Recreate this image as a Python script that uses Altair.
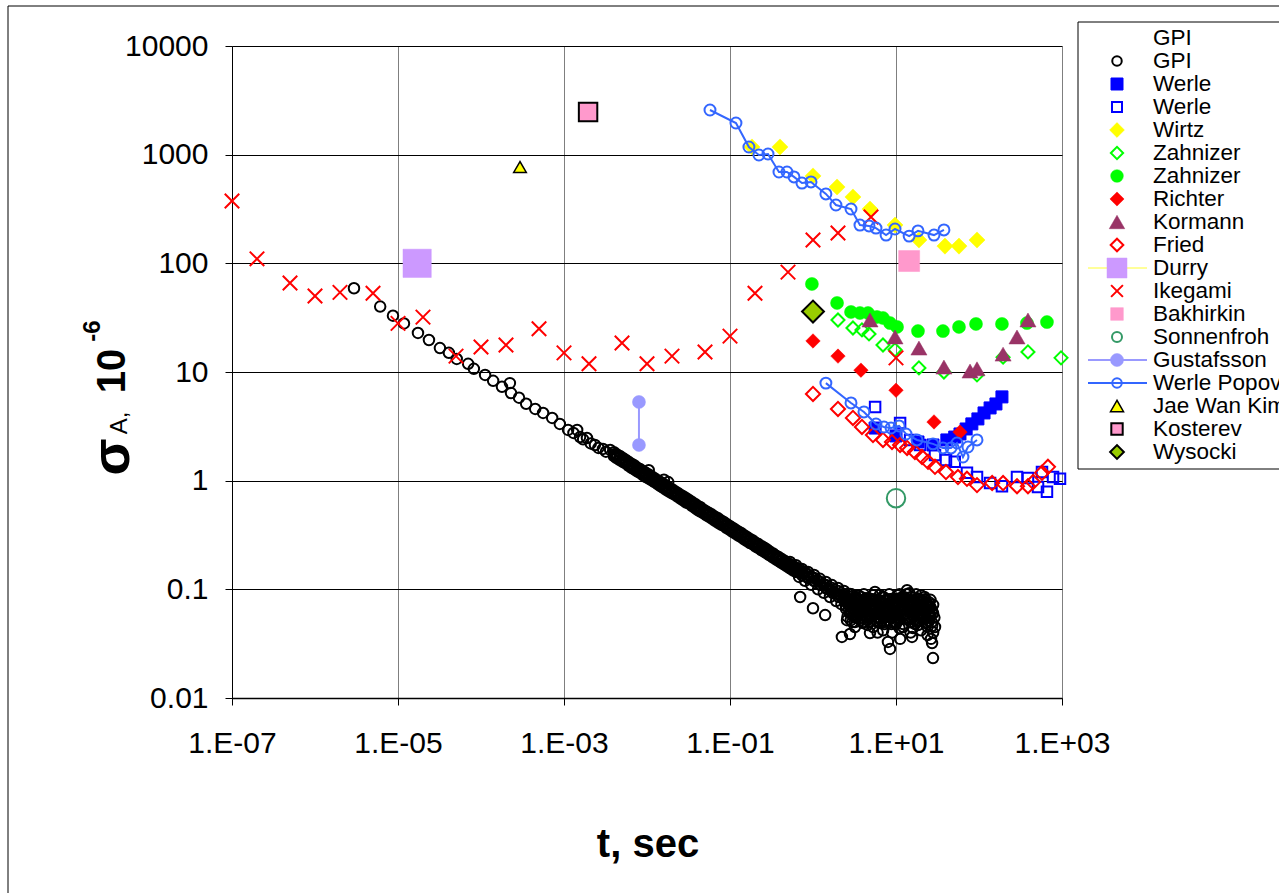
import altair as alt
import pandas as pd

# ---------------- data ----------------
# GPI (black open circles)
gpi_t_early = [2.95e-6, 6.1e-6, 8.7e-6, 1.18e-5, 1.74e-5, 2.36e-5, 3.2e-5, 4.1e-5, 5.1e-5, 7.0e-5,
               8.2e-5, 1.12e-4, 1.40e-4, 1.79e-4, 2.23e-4, 2.3e-4, 2.87e-4, 3.5e-4, 4.5e-4, 5.6e-4,
               7.2e-4, 8.9e-4, 1.12e-3, 1.44e-3, 1.56e-3, 1.89e-3, 2.36e-3, 2.95e-3, 3.6e-3,
               1.3e-3, 1.7e-3, 2.1e-3, 2.6e-3, 3.2e-3]
gpi_s_early = [59, 40, 33, 28, 22.9, 19.7, 16.6, 15, 13.2, 11.9,
               10.7, 9.4, 8.3, 7.3, 7.9, 6.4, 5.8, 5.1, 4.57, 4.2,
               3.78, 3.33, 2.93, 2.93, 2.52, 2.47, 2.13, 1.96, 1.92,
               2.75, 2.4, 2.2, 2.0, 1.85]
gpi_t_band = [0.004, 0.0047, 0.0055, 0.0065, 0.0076, 0.009, 0.0105, 0.0123, 0.0145, 0.017,
              0.02, 0.0235, 0.0275, 0.032, 0.038, 0.044, 0.052, 0.061, 0.072, 0.084,
              0.099, 0.116, 0.136, 0.16, 0.188, 0.22, 0.26, 0.30, 0.36, 0.42, 0.49, 0.58]
gpi_s_band_mid = [1.75, 1.62, 1.50, 1.37, 1.27, 1.17, 1.09, 1.01, 0.93, 0.86,
                  0.80, 0.74, 0.685, 0.64, 0.585, 0.545, 0.50, 0.465, 0.43, 0.40,
                  0.367, 0.34, 0.316, 0.29, 0.27, 0.25, 0.231, 0.214, 0.196, 0.182, 0.169, 0.156]
gpi_s_band_hi = [1.83, 1.69, 1.56, 1.43, 1.32, 1.22, 1.14, 1.055, 0.97, 0.90,
                 0.835, 0.77, 0.715, 0.665, 0.61, 0.57, 0.52, 0.485, 0.45, 0.417,
                 0.383, 0.355, 0.33, 0.303, 0.282, 0.261, 0.241, 0.223, 0.204, 0.19, 0.176, 0.163]
gpi_s_band_lo = [1.68, 1.55, 1.44, 1.31, 1.22, 1.12, 1.045, 0.97, 0.89, 0.825,
                 0.765, 0.71, 0.655, 0.615, 0.56, 0.52, 0.48, 0.445, 0.41, 0.383,
                 0.352, 0.326, 0.303, 0.278, 0.259, 0.24, 0.221, 0.205, 0.188, 0.174, 0.162, 0.149]
gpi_t_band2 = [0.0043, 0.0051, 0.006, 0.007, 0.0082, 0.0097, 0.0114, 0.0134, 0.0157, 0.0184,
               0.0217, 0.0255, 0.0297, 0.035, 0.041, 0.048, 0.056, 0.066, 0.078, 0.091,
               0.107, 0.126, 0.148, 0.174, 0.204, 0.24, 0.28, 0.33, 0.39, 0.455, 0.535, 0.63]
gpi_s_band2_mid = [1.68, 1.55, 1.43, 1.33, 1.23, 1.13, 1.05, 0.97, 0.90, 0.83,
                   0.77, 0.71, 0.66, 0.61, 0.56, 0.52, 0.484, 0.447, 0.412, 0.383,
                   0.354, 0.327, 0.302, 0.279, 0.258, 0.239, 0.222, 0.205, 0.189, 0.175, 0.162, 0.150]
gpi_s_band2_hi = [1.75, 1.62, 1.49, 1.39, 1.28, 1.18, 1.095, 1.01, 0.94, 0.865,
                  0.80, 0.74, 0.69, 0.635, 0.585, 0.54, 0.505, 0.466, 0.43, 0.40,
                  0.369, 0.341, 0.315, 0.291, 0.269, 0.249, 0.232, 0.214, 0.197, 0.183, 0.169, 0.157]
gpi_s_band2_lo = [1.61, 1.49, 1.37, 1.27, 1.18, 1.08, 1.005, 0.93, 0.86, 0.795,
                  0.74, 0.68, 0.63, 0.585, 0.535, 0.50, 0.464, 0.428, 0.395, 0.367,
                  0.339, 0.313, 0.289, 0.267, 0.247, 0.229, 0.213, 0.196, 0.181, 0.168, 0.155, 0.144]
# bend of the GPI band, 0.5 s .. 3.3 s
gpi_t_bend = [0.528, 0.624, 0.736, 0.871, 1.03, 1.21, 1.43, 1.69, 2.0, 2.36, 2.79, 3.30]
gpi_s_bend_mid = [0.1675, 0.157, 0.1445, 0.1355, 0.127, 0.117, 0.1097, 0.1028, 0.0966, 0.0906, 0.085, 0.0798]
gpi_s_bend_hi = [0.1785, 0.167, 0.154, 0.1445, 0.1355, 0.125, 0.117, 0.1095, 0.103, 0.0966, 0.0906, 0.085]
gpi_s_bend_lo = [0.157, 0.147, 0.1355, 0.127, 0.119, 0.11, 0.103, 0.0964, 0.0906, 0.085, 0.0797, 0.0749]
gpi_t_tail = [0.016, 0.018, 0.0105, 0.68, 0.68, 0.8, 0.8, 0.95, 0.95, 1.15, 1.15, 1.35, 1.35, 1.6, 1.6,
              1.9, 1.9, 2.2, 2.2, 0.70, 1.0, 1.40, 0.97, 0.74, 0.87, 1.05, 1.25, 1.5, 1.75, 2.05,
              2.23, 2.79, 5.58, 6.41, 8.0, 8.47, 11.2, 13.6, 17.9, 19.5, 25.7, 27.2, 26.4, 27.2,
              27.9, 15.6, 4.86, 3.2, 6.41, 10.3, 4.0, 7.8, 12.8, 16.0, 2.57, 2.64,
              2.5, 2.8, 3.0, 3.3, 3.6, 4.0, 4.3, 4.6, 5.0, 5.3, 5.8, 6.2, 6.8, 7.2, 7.6, 8.2,
              8.8, 9.3, 9.8, 10.5, 11.5, 12.2, 13, 14, 15, 16.5, 18, 19, 21, 23, 24, 26,
              20, 22, 25, 28, 28, 3.8, 2.9, 6.0, 7.0, 9.0, 11, 15, 17, 20, 24, 11, 12, 14.5,
              2.4, 2.7, 3.1, 3.5, 3.9, 4.4, 4.9, 5.5, 6.1, 6.7, 7.4, 8.1, 8.9, 9.7, 10.7, 11.8,
              13, 14.3, 15.7, 17.3, 19, 21, 23, 25, 2.6, 3.4, 4.2, 5.1, 6.5, 8.5, 10, 12.5,
              16, 19.5, 22.5, 26, 3.0, 4.5, 7.0, 9.5, 13.5, 18.5,
              2.4, 2.6, 2.75, 2.9, 3.05, 3.15, 3.35, 3.5, 3.65, 3.8, 3.95, 4.1, 4.25, 4.4, 4.55, 4.7,
              4.9, 5.1, 5.3, 5.5, 5.7, 5.9, 6.1, 6.3, 6.6, 6.9, 7.1, 7.4, 7.7, 8.0, 8.3, 8.6,
              8.9, 9.2, 9.6, 10.0, 10.4, 10.8, 11.3, 11.8, 12.3, 12.9, 13.4, 14, 14.7, 15.3, 16, 16.8,
              17.5, 18.3, 19.2, 20.2, 21.3, 22.3, 23.5, 24.6, 25.8, 27, 28, 29, 29.5]
gpi_s_tail = [1.02, 0.97, 1.25, 0.155, 0.13, 0.145, 0.12, 0.13, 0.11, 0.12, 0.10, 0.11, 0.093, 0.10, 0.085,
              0.092, 0.078, 0.085, 0.073, 0.085, 0.067, 0.058, 0.13, 0.14, 0.13, 0.12, 0.11, 0.10, 0.092, 0.085,
              0.0365, 0.0388, 0.0946, 0.0887, 0.0328, 0.0283, 0.035, 0.098, 0.080, 0.062, 0.0545, 0.046, 0.035, 0.032,
              0.0233, 0.0365, 0.0396, 0.045, 0.049, 0.0605, 0.069, 0.0718, 0.067, 0.044, 0.052, 0.0906,
              0.07, 0.06, 0.075, 0.055, 0.065, 0.05, 0.08, 0.06, 0.07, 0.045, 0.065, 0.055, 0.075, 0.05, 0.062, 0.07,
              0.048, 0.058, 0.075, 0.052, 0.065, 0.045, 0.08, 0.055, 0.07, 0.06, 0.05, 0.07, 0.055, 0.065, 0.045, 0.08,
              0.088, 0.085, 0.07, 0.06, 0.04, 0.085, 0.09, 0.04, 0.042, 0.04, 0.044, 0.04, 0.048, 0.042, 0.038, 0.09, 0.085, 0.092,
              0.078, 0.066, 0.058, 0.072, 0.061, 0.074, 0.057, 0.068, 0.078, 0.059, 0.066, 0.056, 0.069, 0.064, 0.057, 0.071,
              0.06, 0.066, 0.058, 0.068, 0.061, 0.058, 0.066, 0.06, 0.083, 0.079, 0.075, 0.081, 0.079, 0.081, 0.078, 0.077,
              0.075, 0.077, 0.073, 0.068, 0.05, 0.052, 0.055, 0.05, 0.053, 0.052,
              0.085, 0.078, 0.071, 0.064, 0.058, 0.082, 0.074, 0.088, 0.06, 0.052, 0.076, 0.09, 0.063, 0.071, 0.047, 0.083,
              0.058, 0.066, 0.088, 0.074, 0.052, 0.061, 0.079, 0.069, 0.058, 0.085, 0.066, 0.056, 0.08, 0.062, 0.09, 0.066,
              0.055, 0.082, 0.07, 0.048, 0.088, 0.075, 0.058, 0.083, 0.072, 0.06, 0.09, 0.077, 0.064, 0.085, 0.074, 0.066,
              0.09, 0.058, 0.078, 0.066, 0.078, 0.062, 0.075, 0.058, 0.068, 0.05, 0.072, 0.055, 0.045]
gpi_t_cloud = [2.5, 2.7, 2.9, 3.1, 3.3, 3.5, 3.7, 3.9, 4.1, 4.3, 4.5, 4.8, 5.1, 5.4, 5.7, 6.0, 6.3, 6.7,
               7.1, 7.5, 7.9, 8.4, 8.9, 9.4, 9.9, 10.5, 11.1, 11.7, 12.4, 13.1, 13.9, 14.7, 15.5, 16.4,
               17.4, 18.4, 19.5, 20.6, 21.8, 23.1, 24.4, 25.8, 27.2,
               2.6, 2.85, 3.2, 3.6, 4.0, 4.4, 4.9, 5.4, 6.0, 6.6, 7.3, 8.1, 9.0, 10.0, 11.0, 12.2,
               13.5, 15.0, 16.6, 18.4, 20.4, 22.6, 25.0, 27.5,
               2.55, 3.0, 3.4, 3.85, 4.35, 4.95, 5.6, 6.4, 7.2, 8.2, 9.2, 10.3, 11.5, 12.9, 14.4, 16.1,
               18, 20, 22.3, 24.9]
gpi_s_cloud = [0.066, 0.072, 0.061, 0.068, 0.074, 0.063, 0.07, 0.058, 0.066, 0.073, 0.062, 0.069, 0.057,
               0.064, 0.071, 0.06, 0.067, 0.074, 0.061, 0.068, 0.056, 0.064, 0.072, 0.06, 0.067, 0.055,
               0.063, 0.07, 0.058, 0.066, 0.074, 0.061, 0.068, 0.057, 0.065, 0.072, 0.06, 0.067, 0.056,
               0.063, 0.07, 0.058, 0.064,
               0.056, 0.052, 0.05, 0.054, 0.049, 0.055, 0.051, 0.058, 0.05, 0.054, 0.048, 0.052, 0.057,
               0.05, 0.053, 0.048, 0.055, 0.05, 0.052, 0.047, 0.053, 0.049, 0.051, 0.06,
               0.08, 0.078, 0.082, 0.079, 0.083, 0.077, 0.081, 0.078, 0.084, 0.08, 0.077, 0.082, 0.079,
               0.084, 0.08, 0.078, 0.083, 0.079, 0.081, 0.076]

werle_f_t = [5.6, 10, 18.4, 27.9, 41, 51, 59, 70, 82, 97, 115, 136, 160, 189]
werle_f_s = [3.05, 2.58, 2.27, 2.13, 2.37, 2.52, 2.69, 2.99, 3.33, 3.70, 4.2, 4.67, 5.08, 5.9]
werle_o_t = [5.6, 11.2, 14.8, 19.5, 29.5, 40, 51, 71.6, 94.6, 136, 189, 287, 389, 514, 659, 780, 946, 574]
werle_o_s = [4.77, 3.4, 2.37, 2.13, 1.72, 1.55, 1.49, 1.18, 1.08, 0.95, 0.89, 1.08, 1.06, 0.875, 0.79, 1.08, 1.04, 1.2]
wirtz_t = [0.184, 0.40, 1.0, 1.95, 3.03, 4.86, 9.73, 18.9, 38.9, 57.4, 94.6]
wirtz_s = [1177, 1177, 637, 504, 408, 316, 225, 164, 144, 144, 164]
zahn_o_t = [2.0, 3.03, 3.89, 4.73, 6.97, 9.73, 18.9, 37.8, 94.6, 195, 389, 973]
zahn_o_s = [30.1, 25.4, 24.4, 22.4, 17.7, 16.0, 10.9, 10, 9.4, 13.7, 15.3, 13.5]
zahn_f_t = [0.97, 1.95, 2.87, 3.68, 4.6, 5.9, 6.97, 8.47, 10.3, 18.4, 36.8, 57.4, 92, 189, 378, 659]
zahn_f_s = [64.6, 43.2, 35.7, 34.9, 34.9, 32.1, 31.4, 28.2, 26, 23.8, 23.8, 26, 27.7, 27.7, 28.2, 28.8]
richter_t = [1.0, 2.0, 3.78, 10, 28.7, 59]
richter_s = [19.3, 14, 10.4, 6.8, 3.47, 2.8]
kormann_t = [4.86, 9.73, 18.9, 37.8, 78, 94.6, 195, 287, 389]
kormann_s = [30.1, 21, 16.6, 11.1, 10.2, 10.7, 14.6, 21, 30.1]
fried_t = [1.0, 2.0, 3.03, 3.89, 5.28, 6.97, 8.95, 11.2, 13.6, 16.9, 20.6, 24.3, 29.5, 40, 55.8,
           71.6, 94.6, 144, 195, 287, 389, 448, 574, 677]
fried_s = [6.28, 4.57, 3.78, 3.12, 2.63, 2.37, 2.27, 2.13, 2.0, 1.84, 1.65, 1.49, 1.34, 1.2, 1.08,
           1.04, 0.91, 0.95, 0.95, 0.89, 0.89, 0.97, 1.18, 1.34]
durry_t, durry_s = [1.7e-5], [100]
ikegami_t = [1e-7, 2e-7, 5e-7, 1e-6, 2e-6, 5e-6, 1e-5, 2e-5, 5e-5, 1e-4, 2e-4, 5e-4, 1e-3, 2e-3,
             5e-3, 1e-2, 2e-2, 5e-2, 0.1, 0.2, 0.5, 1, 2, 5, 10]
ikegami_s = [375, 110, 66, 50, 54, 53, 28, 32, 14, 17, 17.7, 25, 15, 11.9,
             18.5, 11.9, 14, 15.3, 21.4, 53, 83, 164, 190, 267, 13.5]
bakhirkin_t, bakhirkin_s = [14.4], [105]
sonnenfroh_t, sonnenfroh_s = [10], [0.69]
gustafsson_t, gustafsson_s = [8.0e-3, 8.0e-3], [5.3, 2.13]
popov_a_t = [0.0574, 0.118, 0.169, 0.223, 0.287, 0.389, 0.486, 0.59, 0.736, 0.946, 1.43, 1.89,
             2.87, 3.68, 4.73, 5.74, 7.59, 9.73, 14.4, 18.4, 28.7, 37.8]
popov_a_s = [2576, 1956, 1177, 993, 1014, 693, 693, 624, 548, 561, 435, 344,
             316, 225, 221, 211, 182, 207, 178, 199, 182, 203]
popov_b_t = [1.43, 2.87, 4.11, 5.74, 7.16, 8.71, 10.9, 13.2, 17.9, 27.9, 36.8, 46, 54.3, 64.1, 73.6, 94.6]
popov_b_s = [7.9, 5.19, 4.29, 3.32, 3.12, 3.05, 3.19, 2.69, 2.37, 2.18, 2.0, 2.0, 2.22, 1.65, 2.04, 2.37]
jaewan_t, jaewan_s = [2.95e-4], [770]
kosterev_t, kosterev_s = [1.95e-3], [2470]
wysocki_t, wysocki_s = [1.0], [36]

x_tick_vals = [1e-7, 1e-5, 1e-3, 1e-1, 1e1, 1e3]
x_tick_labels = ["1.E-07", "1.E-05", "1.E-03", "1.E-01", "1.E+01", "1.E+03"]
y_tick_vals = [0.01, 0.1, 1, 10, 100, 1000, 10000]
y_tick_labels = ["0.01", "0.1", "1", "10", "100", "1000", "10000"]

# ---------------- layout ----------------
L, T = 232, 46          # plot-area origin on the page
W, H = 830, 652
FONT = "Liberation Sans"

x_lab = "[" + ",".join(f"'{s}'" for s in x_tick_labels) + "][round((log(datum.value)/LN10 + 7) / 2)]"
y_lab = "[" + ",".join(f"'{s}'" for s in y_tick_labels) + "][round(log(datum.value)/LN10) + 2]"

X = alt.X("t:Q", title=None,
          scale=alt.Scale(type="log", domain=[1e-7, 1e3], nice=False),
          axis=alt.Axis(values=x_tick_vals, labelExpr=x_lab, grid=True, gridColor="#7f7f7f",
                        gridWidth=1, gridOpacity=1, tickSize=7, tickColor="black", domainColor="black",
                        domainWidth=1.5, labelFont=FONT, labelFontSize=30, labelColor="black",
                        labelPadding=23, labelFlush=False, labelOverlap=False))
Y = alt.Y("s:Q", title=None,
          scale=alt.Scale(type="log", domain=[0.01, 1e4], nice=False),
          axis=alt.Axis(values=y_tick_vals, labelExpr=y_lab, grid=True, gridColor="black",
                        gridWidth=1, gridOpacity=1, tickSize=7, tickColor="black", domainColor="black",
                        domainWidth=1, labelFont=FONT, labelFontSize=30, labelColor="black",
                        labelPadding=17, labelFlush=False, labelOverlap=False))


def df(t, s):
    return pd.DataFrame({"t": t, "s": s})


def pts(t, s, shape, size, color=None, fill=None, stroke=None, sw=2):
    kw = dict(shape=shape, size=size, opacity=1, strokeWidth=sw)
    if fill is None:
        kw.update(filled=False, color=color)
    else:
        kw.update(filled=True, fill=fill, stroke=stroke if stroke else fill)
    return alt.Chart(df(t, s)).mark_point(**kw).encode(x=X, y=Y)


XSHAPE = "M-1,-1L1,1M-1,1L1,-1"

gpi_t = (gpi_t_early + gpi_t_band * 3 + gpi_t_band2 * 3 + gpi_t_bend * 3 + gpi_t_tail + gpi_t_cloud)
gpi_s = (gpi_s_early + gpi_s_band_mid + gpi_s_band_hi + gpi_s_band_lo
         + gpi_s_band2_mid + gpi_s_band2_hi + gpi_s_band2_lo
         + gpi_s_bend_mid + gpi_s_bend_hi + gpi_s_bend_lo + gpi_s_tail + gpi_s_cloud)

popov = pd.DataFrame({"t": popov_a_t + popov_b_t, "s": popov_a_s + popov_b_s,
                      "g": ["a"] * len(popov_a_t) + ["b"] * len(popov_b_t)})

one = pd.DataFrame({"a": [0]})

layers = []
# outer chart border
layers.append(alt.Chart(one).mark_rect(fillOpacity=0, stroke="black", strokeWidth=1).encode(
    x=alt.value(8 - L), x2=alt.value(1300 - L), y=alt.value(6 - T), y2=alt.value(905 - T)))

layers += [
    pts(gpi_t, gpi_s, "circle", 110, color="black", sw=2),
    pts(werle_f_t, werle_f_s, "square", 144, fill="#0000FF", sw=1),
    pts(werle_o_t, werle_o_s, "square", 110, color="#0000FF", sw=2),
    pts(wirtz_t, wirtz_s, "diamond", 260, fill="#FFFF00", sw=0.5),
    pts(zahn_o_t, zahn_o_s, "diamond", 170, color="#00FF00", sw=2),
    pts(zahn_f_t, zahn_f_s, "circle", 170, fill="#00FF00", sw=0.5),
    pts(richter_t, richter_s, "diamond", 210, fill="#FF0000", sw=0.5),
    pts(kormann_t, kormann_s, "triangle-up", 260, fill="#993366", sw=0.5),
    pts(fried_t, fried_s, "diamond", 200, color="#FF0000", sw=2),
    pts(durry_t, durry_s, "square", 800, fill="#CC99FF", sw=0.5),
    pts(ikegami_t, ikegami_s, XSHAPE, 210, color="#FF0000", sw=2),
    pts(bakhirkin_t, bakhirkin_s, "square", 441, fill="#FF99CC", sw=0.5),
    pts(sonnenfroh_t, sonnenfroh_s, "circle", 340, color="#339966", sw=2),
    alt.Chart(df(gustafsson_t, gustafsson_s)).mark_line(color="#9999FF", strokeWidth=2).encode(x=X, y=Y),
    pts(gustafsson_t, gustafsson_s, "circle", 170, fill="#9999FF", sw=0.5),
    alt.Chart(popov).mark_line(color="#3366FF", strokeWidth=2).encode(x=X, y=Y, detail="g:N", order="t:Q"),
    alt.Chart(popov).mark_point(shape="circle", size=120, filled=False, color="#3366FF",
                                strokeWidth=2, opacity=1).encode(x=X, y=Y),
    pts(jaewan_t, jaewan_s, "triangle-up", 160, fill="#FFFF00", stroke="black", sw=1.5),
    pts(kosterev_t, kosterev_s, "square", 340, fill="#FF99CC", stroke="black", sw=2),
    pts(wysocki_t, wysocki_s, "diamond", 480, fill="#99CC00", stroke="black", sw=2),
]

# ---------------- axis titles ----------------
def txt(s, x, y, size, bold=False, angle=0, align="center", baseline="middle"):
    return alt.Chart(one).mark_text(text=s, font=FONT, fontSize=size, fontWeight="bold" if bold else "normal",
                                    angle=angle, align=align, baseline=baseline, color="black").encode(
        x=alt.value(x - L), y=alt.value(y - T))

layers.append(txt("t, sec", 648, 845, 40, bold=True))
layers.append(txt("σ", 113, 457, 54, bold=True, angle=270))
layers.append(txt("A,", 120, 423, 24, bold=False, angle=270))
layers.append(txt("10", 113, 371, 40, bold=True, angle=270))
layers.append(txt("-6", 93, 331, 24, bold=True, angle=270))

# ---------------- legend ----------------
leg_names = ["GPI", "GPI", "Werle", "Werle", "Wirtz", "Zahnizer", "Zahnizer", "Richter", "Kormann",
             "Fried", "Durry", "Ikegami", "Bakhirkin", "Sonnenfroh", "Gustafsson", "Werle Popov",
             "Jae Wan Kim", "Kosterev", "Wysocki"]
# (shape, size, fill, stroke, strokeWidth, line colour)
leg_style = [
    None,
    ("circle", 90, None, "black", 2, None),
    ("square", 144, "#0000FF", "#0000FF", 1, None),
    ("square", 100, None, "#0000FF", 2, None),
    ("diamond", 220, "#FFFF00", "#FFFF00", 0.5, None),
    ("diamond", 150, None, "#00FF00", 2, None),
    ("circle", 160, "#00FF00", "#00FF00", 0.5, None),
    ("diamond", 200, "#FF0000", "#FF0000", 0.5, None),
    ("triangle-up", 240, "#993366", "#993366", 0.5, None),
    ("diamond", 160, None, "#FF0000", 2, None),
    ("square", 400, "#CC99FF", "#CC99FF", 0.5, "#FFFF99"),
    (XSHAPE, 140, None, "#FF0000", 2, None),
    ("square", 160, "#FF99CC", "#FF99CC", 0.5, None),
    ("circle", 100, None, "#339966", 2, None),
    ("circle", 170, "#9999FF", "#9999FF", 0.5, "#9999FF"),
    ("circle", 90, None, "#3366FF", 2, "#3366FF"),
    ("triangle-up", 170, "#FFFF00", "black", 1.5, None),
    ("square", 130, "#FF99CC", "black", 2, None),
    ("diamond", 190, "#99CC00", "black", 2, None),
]
LEG_X0, LEG_Y0, LEG_DY = 1078, 38, 23
layers.append(alt.Chart(one).mark_rect(fill="white", stroke="black", strokeWidth=1).encode(
    x=alt.value(LEG_X0 - L), x2=alt.value(1300 - L), y=alt.value(22 - T), y2=alt.value(469 - T)))
for i, (name, st) in enumerate(zip(leg_names, leg_style)):
    yy = LEG_Y0 + i * LEG_DY - T
    if st is not None:
        shape, size, fill, stroke, sw, line = st
        if line:
            layers.append(alt.Chart(one).mark_rule(color=line, strokeWidth=2).encode(
                x=alt.value(1088 - L), x2=alt.value(1147 - L), y=alt.value(yy)))
        kw = dict(shape=shape, size=size, opacity=1, strokeWidth=sw)
        if fill is None:
            kw.update(filled=False, color=stroke)
        else:
            kw.update(filled=True, fill=fill, stroke=stroke)
        layers.append(alt.Chart(one).mark_point(**kw).encode(x=alt.value(1117 - L), y=alt.value(yy)))
    layers.append(alt.Chart(one).mark_text(text=name, font=FONT, fontSize=22.5, align="left",
                                           baseline="middle", color="black").encode(
        x=alt.value(1153 - L), y=alt.value(yy)))

chart = alt.layer(*layers).properties(
    width=W, height=H,
    padding={"left": L, "top": T, "right": 1279 - L - W, "bottom": 893 - T - H},
    autosize=alt.AutoSizeParams(type="none"),
    background="white",
).configure_view(stroke=None)

chart.save("out.html", embed_options={"renderer": "svg", "actions": False})
